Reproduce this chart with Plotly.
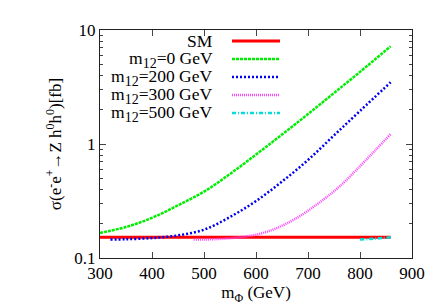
import plotly.graph_objects as go

# data
sm_m = [300, 859]
sm_s = [0.152, 0.152]
g_m = [300, 350, 400, 450, 500, 550, 600, 650, 700, 750, 800, 859]
g_s = [0.166, 0.187, 0.225, 0.29, 0.382, 0.546, 0.808, 1.21, 1.83, 2.80, 4.29, 7.2]
b_m = [320, 350, 400, 450, 500, 550, 600, 650, 700, 750, 800, 859]
b_s = [0.145, 0.146, 0.1496, 0.158, 0.177, 0.229, 0.316, 0.468, 0.724, 1.19, 1.95, 3.48]
p_m = [480, 520, 560, 600, 640, 680, 720, 760, 800, 830, 859]
p_s = [0.145, 0.1462, 0.1507, 0.160, 0.183, 0.227, 0.302, 0.421, 0.638, 0.887, 1.22]
c_m = [800, 830, 859]
c_s = [0.145, 0.148, 0.152]

SUB = "<sub><span style='font-size:14px'>12</span></sub>"
labels = ["SM", "m" + SUB + "=0 GeV", "m" + SUB + "=200 GeV",
          "m" + SUB + "=300 GeV", "m" + SUB + "=500 GeV"]
colors = ["#ff0000", "#00ee00", "#0000ee", "#ff44ff", "#00dddd"]
dashes = ["solid", "3px,1px", "2px,2px", "1px,1px", "4px,2px,1px,2px"]
widths = [3, 2.5, 2.5, 2.5, 2.5]

series = [(sm_m, sm_s), (g_m, g_s), (b_m, b_s), (p_m, p_s), (c_m, c_s)]

FONT = "Liberation Serif, Times New Roman, serif"
fig = go.Figure()
for i, (mx, sy) in enumerate(series):
    fig.add_trace(go.Scatter(x=mx, y=sy, mode="lines", name=labels[i],
                             line=dict(color=colors[i], dash=dashes[i],
                                       width=widths[i], shape="spline"),
                             showlegend=False))

W, H = 435, 305
L, R, T, B = 92, 31, 22, 55
pw, ph = W - L - R, H - T - B

# manual gnuplot-style legend (text left, sample right)
for i in range(5):
    ypx = 33 + 18 * i
    yp = 1 - (ypx - T) / ph
    fig.add_annotation(x=(206 - L) / pw, y=yp, xref="paper", yref="paper",
                       text=labels[i], showarrow=False, xanchor="right",
                       yanchor="middle", borderpad=0,
                       font=dict(family=FONT, size=17.5, color="black"))
    fig.add_shape(type="line", xref="paper", yref="paper",
                  x0=(224 - L) / pw, x1=(272 - L) / pw, y0=yp, y1=yp,
                  line=dict(color=colors[i], dash=dashes[i], width=widths[i]))

minor_vals = [v * 0.1 for v in range(2, 10)] + list(range(2, 10))

fig.update_layout(
    width=W, height=H,
    margin=dict(l=L, r=R, t=T, b=B),
    plot_bgcolor="white", paper_bgcolor="white",
    font=dict(family=FONT, size=17, color="black"),
    xaxis=dict(range=[300, 900], tickvals=[300, 400, 500, 600, 700, 800, 900],
               ticks="inside", ticklen=6, tickcolor="#444", showline=True,
               linecolor="#222", linewidth=1, mirror="allticks", showgrid=False,
               zeroline=False,
               title=dict(text="m<sub>Φ</sub> (GeV)", standoff=2,
                          font=dict(size=17)),
               tickfont=dict(size=17)),
    yaxis=dict(type="log", range=[-1, 1], tickvals=[0.1, 1, 10],
               ticktext=["0.1", "1", "10"], ticks="inside", ticklen=6,
               tickcolor="#444", showline=True, linecolor="#222", linewidth=1,
               mirror="allticks", showgrid=False, zeroline=False,
               minor=dict(tickvals=minor_vals, ticks="inside", ticklen=3,
                          tickcolor="#444", showgrid=False),
               title=dict(text="σ(e<sup>-</sup>e<sup>+</sup>→Z h<sup>0</sup>h<sup>0</sup>)[fb]",
                          standoff=8, font=dict(size=17)),
               tickfont=dict(size=17)),
)

fig.write_html("out.html")
